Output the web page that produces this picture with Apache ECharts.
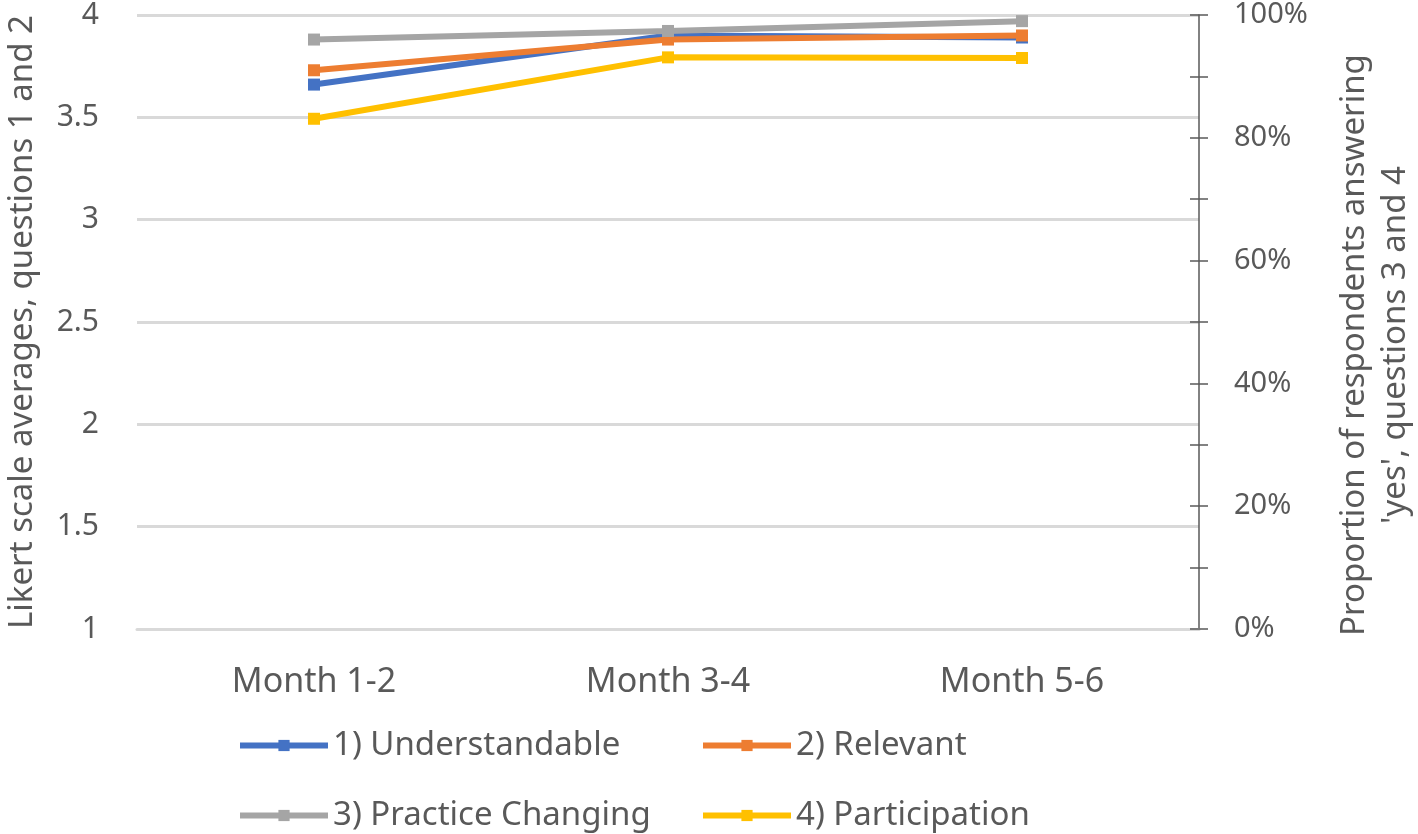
<!DOCTYPE html>
<html><head><meta charset="utf-8">
<script src="https://cdn.jsdelivr.net/npm/echarts@6/dist/echarts.min.js"></script>
<style>html,body{margin:0;padding:0;background:#fff}#c{width:1418px;height:834px}</style>
</head><body><div id="c"></div>
<script>
const categories = ['Month 1-2', 'Month 3-4', 'Month 5-6'];
const understandable = [3.66, 3.90, 3.89];
const relevant = [3.73, 3.88, 3.90];
const practiceChanging = [96.0, 97.4, 99.0];
const participation = [83.1, 93.1, 93.0];
const seriesNames = ['1) Understandable', '2) Relevant', '3) Practice Changing', '4) Participation'];
const colors = ['#4472C4', '#ED7D31', '#A5A5A5', '#FFC000'];

const FONT = 'Noto Sans';
const TXT = '#595959';
const chart = echarts.init(document.getElementById('c'), null, {renderer: 'canvas'});

function mkSeries(i, data, yIdx) {
  return {
    name: seriesNames[i], type: 'line', data: data, yAxisIndex: yIdx,
    symbol: 'rect', symbolSize: 12, showSymbol: true,
    lineStyle: {width: 6, color: colors[i]},
    itemStyle: {color: colors[i]},
    z: 3 + i
  };
}
function mkLegend(i, left, top) {
  return {
    data: [seriesNames[i]], left: left, top: top, itemWidth: 88, itemHeight: 14, itemGap: 0,
    lineStyle: {width: 6},
    textStyle: {fontFamily: FONT, fontSize: 33, color: TXT, padding: [0, 0, 0, 0]},
    selectedMode: false
  };
}
chart.setOption({
  animation: false,
  color: colors,
  grid: {left: 137, right: 219, top: 15, bottom: 205, containLabel: false, outerBoundsMode: 'none'},
  legend: [mkLegend(0, 232, 724), mkLegend(1, 695, 724), mkLegend(2, 232, 794), mkLegend(3, 695, 794)],
  xAxis: {
    type: 'category', data: categories, boundaryGap: true,
    axisLine: {show: true, lineStyle: {color: '#d9d9d9', width: 3}},
    axisTick: {show: false},
    axisLabel: {fontFamily: FONT, fontSize: 34, color: TXT, margin: 36}
  },
  yAxis: [
    {
      type: 'value', min: 1, max: 4, interval: 0.5, position: 'left',
      name: 'Likert scale averages, questions 1 and 2', nameLocation: 'middle', nameGap: 98, nameRotate: 90,
      nameTextStyle: {fontFamily: FONT, fontSize: 33, color: TXT},
      axisLine: {show: false}, axisTick: {show: false},
      axisLabel: {fontFamily: FONT, fontSize: 30, color: TXT, margin: 38},
      splitLine: {lineStyle: {color: '#d9d9d9', width: 3}}
    },
    {
      type: 'value', min: 0, max: 100, interval: 10, position: 'right',
      name: "Proportion of respondents answering\n'yes', questions 3 and 4", nameLocation: 'middle', nameGap: 135, nameRotate: 90,
      nameTextStyle: {fontFamily: FONT, fontSize: 33, color: TXT, lineHeight: 41, padding: [0, 46, 0, 0]},
      axisLine: {show: true, lineStyle: {color: '#595959', width: 1.5}},
      axisTick: {show: true, length: 9, lineStyle: {color: '#595959', width: 1.5}},
      axisLabel: {fontFamily: FONT, fontSize: 29, color: TXT, margin: 35,
        formatter: v => (v % 20 === 0 ? v + '%' : '')},
      splitLine: {show: false}
    },
    {
      type: 'value', min: 0, max: 100, interval: 10, position: 'right',
      axisLine: {show: false},
      axisTick: {show: true, inside: true, length: 9, lineStyle: {color: '#595959', width: 1.5}},
      axisLabel: {show: false}, splitLine: {show: false}
    }
  ],
  series: [
    mkSeries(0, understandable, 0),
    mkSeries(1, relevant, 0),
    mkSeries(2, practiceChanging, 1),
    mkSeries(3, participation, 1)
  ]
});
</script></body></html>
